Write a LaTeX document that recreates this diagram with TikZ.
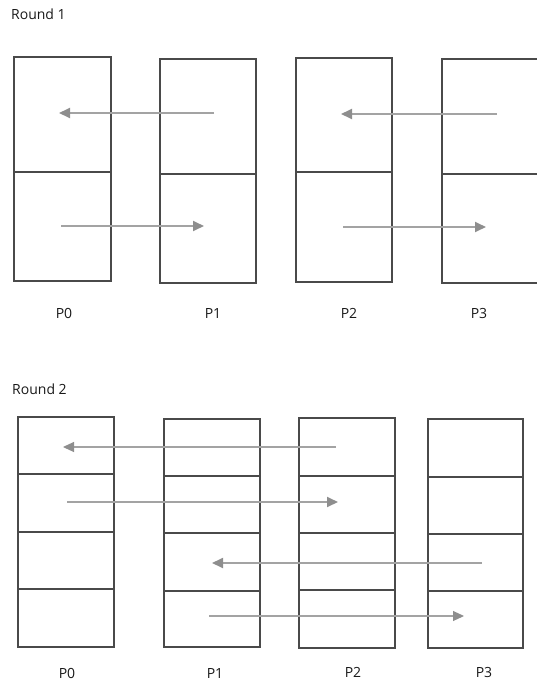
\documentclass[tikz,border=0pt]{standalone}
\usepackage{fontspec}
\setmainfont{Open Sans}
\usetikzlibrary{arrows.meta}
\definecolor{boxgray}{HTML}{4A4A4A}
\definecolor{arrgray}{HTML}{A3A3A3}
\definecolor{headgray}{HTML}{8E8E8E}
\begin{document}
\begin{tikzpicture}[x=1pt,y=-1pt,
  cell/.style={draw=boxgray, line width=1.3pt, inner sep=0pt, outer sep=0pt, anchor=north west},
  lbl/.style={font=\fontsize{14}{16}\selectfont, text=black!90, inner sep=0pt},
  msg/.style={draw=arrgray, line width=1.8pt, -{Triangle[length=11pt,width=10pt,fill=headgray,color=headgray]}},
  msgthin/.style={draw=arrgray, line width=1.1pt, -{Triangle[length=11pt,width=10pt,fill=headgray,color=headgray]}}]
\useasboundingbox (0,0) rectangle (536,683);
% ---------- Round 1 ----------
\node[lbl, anchor=west] (t1) at (11,14) {Round 1};
\node[cell, minimum width=97pt, minimum height=115pt] (a0a) at (14,57) {};
\node[cell, minimum width=97pt, minimum height=109pt] (a0b) at (14,172) {};
\node[cell, minimum width=96pt, minimum height=115pt] (a1a) at (160,59) {};
\node[cell, minimum width=96pt, minimum height=109pt] (a1b) at (160,174) {};
\node[cell, minimum width=96pt, minimum height=114pt] (a2a) at (296,58) {};
\node[cell, minimum width=96pt, minimum height=110pt] (a2b) at (296,172) {};
\node[cell, minimum width=100pt, minimum height=115pt] (a3a) at (442,59) {};
\node[cell, minimum width=100pt, minimum height=109pt] (a3b) at (442,174) {};
\node[lbl] (la0) at (64,313) {P0};
\node[lbl] (la1) at (213,313) {P1};
\node[lbl] (la2) at (349,313) {P2};
\node[lbl] (la3) at (479,313) {P3};
\coordinate (s1) at (214,113); \coordinate (e1) at (59,113);
\coordinate (s2) at (61,226);  \coordinate (e2) at (204,226);
\coordinate (s3) at (497,114); \coordinate (e3) at (341,114);
\coordinate (s4) at (343,227); \coordinate (e4) at (486,227);
\draw[msg] (s1) -- (e1);
\draw[msg] (s2) -- (e2);
\draw[msg] (s3) -- (e3);
\draw[msg] (s4) -- (e4);
% ---------- Round 2 ----------
\node[lbl, anchor=west] (t2) at (12,389) {Round 2};
\node[cell, minimum width=96pt, minimum height=57pt] (b0a) at (18,417) {};
\node[cell, minimum width=96pt, minimum height=58pt] (b0b) at (18,474) {};
\node[cell, minimum width=96pt, minimum height=57pt] (b0c) at (18,532) {};
\node[cell, minimum width=96pt, minimum height=58pt] (b0d) at (18,589) {};
\node[cell, minimum width=96pt, minimum height=57pt] (b1a) at (164,419) {};
\node[cell, minimum width=96pt, minimum height=57pt] (b1b) at (164,476) {};
\node[cell, minimum width=96pt, minimum height=58pt] (b1c) at (164,533) {};
\node[cell, minimum width=96pt, minimum height=56pt] (b1d) at (164,591) {};
\node[cell, minimum width=96pt, minimum height=58pt] (b2a) at (299,418) {};
\node[cell, minimum width=96pt, minimum height=57pt] (b2b) at (299,476) {};
\node[cell, minimum width=96pt, minimum height=57pt] (b2c) at (299,533) {};
\node[cell, minimum width=96pt, minimum height=58pt] (b2d) at (299,590) {};
\node[cell, minimum width=95pt, minimum height=58pt] (b3a) at (428,419) {};
\node[cell, minimum width=95pt, minimum height=57pt] (b3b) at (428,477) {};
\node[cell, minimum width=95pt, minimum height=57pt] (b3c) at (428,534) {};
\node[cell, minimum width=95pt, minimum height=57pt] (b3d) at (428,591) {};
\node[lbl] (lb0) at (67,673) {P0};
\node[lbl] (lb1) at (215,673) {P1};
\node[lbl] (lb2) at (353,672) {P2};
\node[lbl] (lb3) at (484,672) {P3};
\coordinate (u1) at (336,447); \coordinate (v1) at (63,447);
\coordinate (u2) at (67,502);  \coordinate (v2) at (338,502);
\coordinate (u3) at (482,563); \coordinate (v3) at (212,563);
\coordinate (u4) at (209,616); \coordinate (v4) at (464,616);
\draw[msgthin] (u1) -- (v1);
\draw[msg] (u2) -- (v2);
\draw[msg] (u3) -- (v3);
\draw[msgthin] (u4) -- (v4);
\end{tikzpicture}
\end{document}
